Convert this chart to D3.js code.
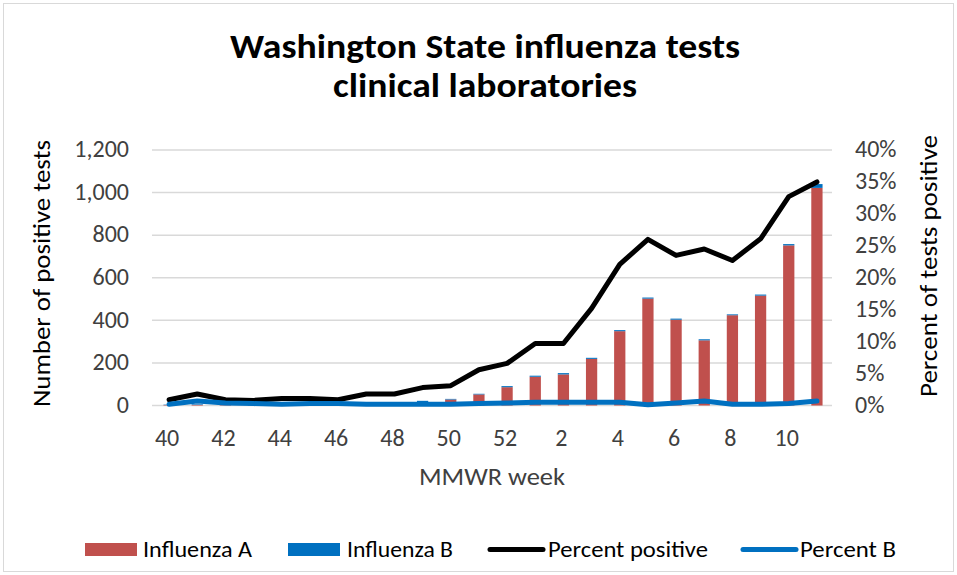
<!DOCTYPE html>
<html>
<head>
<meta charset="utf-8">
<script src="https://cdn.jsdelivr.net/npm/d3@7"></script>
<style>
  body { margin: 0; background: #fff; }
  text { font-family: Carlito, "Open Sans", Lato, sans-serif; }
</style>
</head>
<body>
<div id="chart"></div>
<script>
// MMWR weeks, season 40 .. 11
const weeks = [40, 41, 42, 43, 44, 45, 46, 47, 48, 49, 50, 51, 52, 1, 2, 3, 4, 5, 6, 7, 8, 9, 10, 11];
const fluA = [2, 3, 2, 2, 2, 3, 4, 8, 9, 16, 28, 52, 86, 135, 146, 219, 349, 502, 403, 306, 424, 516, 752, 1022];
const fluB = [2, 3, 2, 2, 2, 2, 3, 5, 5, 6, 3, 3, 5, 5, 6, 5, 5, 5, 5, 5, 4, 5, 6, 18];
const pctPositive = [0.9, 1.8, 0.9, 0.8, 1.1, 1.1, 0.9, 1.8, 1.8, 2.8, 3.1, 5.6, 6.6, 9.7, 9.7, 15.2, 22.1, 26.0, 23.5, 24.5, 22.7, 26.1, 32.7, 35.0];
const pctB = [0.2, 0.7, 0.4, 0.3, 0.2, 0.3, 0.3, 0.2, 0.2, 0.2, 0.2, 0.3, 0.4, 0.5, 0.5, 0.5, 0.5, 0.1, 0.4, 0.7, 0.2, 0.2, 0.3, 0.7];
const leftTicks = [0, 200, 400, 600, 800, 1000, 1200];
const rightTicks = [0, 5, 10, 15, 20, 25, 30, 35, 40];
const tickWeeks = [40, 42, 44, 46, 48, 50, 52, 2, 4, 6, 8, 10];

const width = 957, height = 575;
const colorA = "#C0504D", colorB = "#0070C0";
const fs = "24px";

const svg = d3.select("#chart").append("svg")
  .attr("width", width)
  .attr("height", height);

svg.append("rect")
  .attr("x", 3.5).attr("y", 3.5)
  .attr("width", width - 7).attr("height", height - 7)
  .attr("fill", "#fff").attr("stroke", "#D9D9D9");

const data = weeks.map((w, i) => ({
  week: w, a: fluA[i], b: fluB[i], pct: pctPositive[i], pctB: pctB[i]
}));

const x = d3.scaleBand()
  .domain(weeks)
  .range([155, 831])
  .paddingInner(0.6)
  .paddingOuter(0.3);

const xc = d => x(d) + x.bandwidth() / 2;

const yLeft = d3.scaleLinear().domain([0, 1200]).range([405.5, 150]);
const yRight = d3.scaleLinear().domain([0, 40]).range([405.5, 150]);

// gridlines
svg.append("g")
  .selectAll("line")
  .data(leftTicks)
  .join("line")
  .attr("x1", 152).attr("x2", 832)
  .attr("y1", d => yLeft(d)).attr("y2", d => yLeft(d))
  .attr("stroke", "#D9D9D9")
  .attr("stroke-width", 1.5);

// left axis labels
svg.append("g")
  .selectAll("text")
  .data(leftTicks)
  .join("text")
  .attr("x", 129)
  .attr("y", d => yLeft(d))
  .attr("dy", "0.3em")
  .attr("text-anchor", "end")
  .attr("fill", "#404040")
  .style("font-size", fs)
  .text(d => d3.format(",")(d));

// right axis labels
svg.append("g")
  .selectAll("text")
  .data(rightTicks)
  .join("text")
  .attr("x", 855)
  .attr("y", d => yRight(d))
  .attr("dy", "0.3em")
  .attr("fill", "#404040")
  .style("font-size", fs)
  .text(d => d + "%");

// x tick labels
svg.append("g")
  .selectAll("text")
  .data(tickWeeks)
  .join("text")
  .attr("x", d => xc(d) - 2)
  .attr("y", 446)
  .attr("text-anchor", "middle")
  .attr("fill", "#404040")
  .style("font-size", fs)
  .text(d => d);

// stacked bars
const bars = svg.append("g");
bars.selectAll("rect.a")
  .data(data)
  .join("rect")
  .attr("class", "a")
  .attr("x", d => x(d.week))
  .attr("width", x.bandwidth())
  .attr("y", d => yLeft(d.a))
  .attr("height", d => yLeft(0) - yLeft(d.a))
  .attr("fill", colorA);
bars.selectAll("rect.b")
  .data(data)
  .join("rect")
  .attr("class", "b")
  .attr("x", d => x(d.week))
  .attr("width", x.bandwidth())
  .attr("y", d => yLeft(d.a + d.b))
  .attr("height", d => yLeft(d.a) - yLeft(d.a + d.b))
  .attr("fill", colorB);

// lines
const linePct = d3.line().x(d => xc(d.week)).y(d => yRight(d.pct));
const lineB = d3.line().x(d => xc(d.week)).y(d => yRight(d.pctB));

svg.append("path")
  .datum(data)
  .attr("d", linePct)
  .attr("fill", "none")
  .attr("stroke", "#000")
  .attr("stroke-width", 5)
  .attr("stroke-linejoin", "round")
  .attr("stroke-linecap", "round");

svg.append("path")
  .datum(data)
  .attr("d", lineB)
  .attr("fill", "none")
  .attr("stroke", colorB)
  .attr("stroke-width", 5)
  .attr("stroke-linejoin", "round")
  .attr("stroke-linecap", "round");

// title
const title = svg.append("text")
  .attr("text-anchor", "middle")
  .attr("fill", "#000")
  .style("font-size", "34px")
  .style("font-weight", "bold");
title.append("tspan").attr("x", 485).attr("y", 58)
  .attr("textLength", 510).attr("lengthAdjust", "spacingAndGlyphs")
  .text("Washington State influenza tests");
title.append("tspan").attr("x", 485).attr("y", 97)
  .attr("textLength", 304).attr("lengthAdjust", "spacingAndGlyphs")
  .text("clinical laboratories");

// axis titles
svg.append("text")
  .attr("transform", "translate(50,273.5) rotate(-90)")
  .attr("text-anchor", "middle")
  .attr("fill", "#000")
  .style("font-size", fs)
  .attr("textLength", 267).attr("lengthAdjust", "spacingAndGlyphs")
  .text("Number of positive tests");

svg.append("text")
  .attr("transform", "translate(937,266) rotate(-90)")
  .attr("text-anchor", "middle")
  .attr("fill", "#000")
  .style("font-size", fs)
  .attr("textLength", 262).attr("lengthAdjust", "spacingAndGlyphs")
  .text("Percent of tests positive");

svg.append("text")
  .attr("x", 492)
  .attr("y", 485)
  .attr("text-anchor", "middle")
  .attr("fill", "#404040")
  .style("font-size", fs)
  .attr("textLength", 146).attr("lengthAdjust", "spacingAndGlyphs")
  .text("MMWR week");

// legend
const legendData = [
  { label: "Influenza A", color: colorA, type: "rect", x: 85, tx: 143, tw: 109 },
  { label: "Influenza B", color: colorB, type: "rect", x: 288, tx: 347, tw: 106 },
  { label: "Percent positive", color: "#000", type: "line", x: 488, tx: 548, tw: 160 },
  { label: "Percent B", color: colorB, type: "line", x: 741, tx: 800, tw: 96 }
];
const legend = svg.append("g").attr("transform", "translate(0,549.5)");
legendData.forEach(d => {
  if (d.type === "rect") {
    legend.append("rect").attr("x", d.x).attr("y", -6.5).attr("width", 52).attr("height", 13).attr("fill", d.color);
  } else {
    legend.append("line").attr("x1", d.x + 2).attr("x2", d.x + 55).attr("y1", 0).attr("y2", 0)
      .attr("stroke", d.color).attr("stroke-width", 5).attr("stroke-linecap", "round");
  }
  legend.append("text")
    .attr("x", d.tx).attr("y", 7.2)
    .attr("fill", "#000")
    .style("font-size", "23px")
    .attr("textLength", d.tw)
    .attr("lengthAdjust", "spacingAndGlyphs")
    .text(d.label);
});
</script>
</body>
</html>
